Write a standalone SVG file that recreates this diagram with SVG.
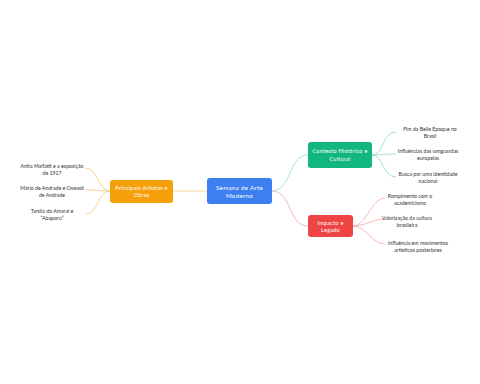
<svg xmlns="http://www.w3.org/2000/svg" width="480" height="384" viewBox="0 0 480 384">
<style>
.bg{fill:#ffffff}
.node text{fill:#ffffff;font-family:"Lato","Liberation Sans",sans-serif;font-size:6.2px;letter-spacing:0.3px;text-anchor:middle}
.leaf text{fill:#333333;font-family:"Lato","Liberation Sans",sans-serif;font-size:5.2px;text-anchor:middle}
.c{fill:none;stroke-width:0.8}
.o{stroke:#f7c873}
.g{stroke:#8fdcc1}
.r{stroke:#f5a3a8}
</style>
<rect class="bg" width="480" height="384"/>
<g id="connectors">
<path class="c o" d="M207,191 L173,191"/>
<path class="c g" d="M272,191 C292,191 288,155 308,155"/>
<path class="c r" d="M272,191 C292,191 288,226 308,226"/>
<path class="c g" d="M372,155 C384,155 382,132 396,132"/>
<path class="c g" d="M372,155 C384,155 382,154 396,154"/>
<path class="c g" d="M372,155 C384,155 382,177 396,177"/>
<path class="c r" d="M353,226 C366,226 372,198 385,198"/>
<path class="c r" d="M353,226 C366,226 372,219 385,219"/>
<path class="c r" d="M353,226 C366,226 372,244 385,244"/>
<path class="c o" d="M110,191 C98,191 98,168 85,168"/>
<path class="c o" d="M110,191 C98,191 98,190 86,190"/>
<path class="c o" d="M110,191 C98,191 98,214 86,214"/>
</g>
<g id="central" class="node">
<rect x="207" y="178" width="65" height="26" rx="3" fill="#3d7ef0"/>
<text x="239.5" y="189.5">Semana de Arte</text>
<text x="239.5" y="198">Moderno</text>
</g>
<g id="artistas" class="node">
<rect x="110" y="180" width="63" height="23" rx="3" fill="#f59f0b"/>
<text x="141.5" y="189.5" style="font-size:5.4px">Principais Artistas e</text>
<text x="141.5" y="197" style="font-size:5.4px">Obras</text>
</g>
<g id="contexto" class="node">
<rect x="308" y="142" width="64" height="26" rx="3" fill="#12b77f"/>
<text x="340" y="153" style="font-size:5.4px">Contexto Histórico e</text>
<text x="340" y="160.5" style="font-size:5.4px">Cultural</text>
</g>
<g id="impacto" class="node">
<rect x="308" y="215" width="45" height="22" rx="3" fill="#ef4444"/>
<text x="330.5" y="224.5" style="font-size:5.4px">Impacto e</text>
<text x="330.5" y="232" style="font-size:5.4px">Legado</text>
</g>
<g id="leaf-fim" class="leaf">
<text x="430" y="131">Fim da Belle Époque no</text>
<text x="430" y="138">Brasil</text>
</g>
<g id="leaf-influencias" class="leaf">
<text x="428" y="153">Influências das vanguardas</text>
<text x="428" y="160">europeias</text>
</g>
<g id="leaf-busca" class="leaf">
<text x="428" y="175.5">Busca por uma identidade</text>
<text x="428" y="182.5">nacional</text>
</g>
<g id="leaf-rompimento" class="leaf">
<text x="410" y="197.5">Rompimento com o</text>
<text x="410" y="204.5">academicismo</text>
</g>
<g id="leaf-valorizacao" class="leaf">
<text x="407" y="219.5">Valorização da cultura</text>
<text x="407" y="226.5">brasileira</text>
</g>
<g id="leaf-influencia" class="leaf">
<text x="418" y="244.5">Influência em movimentos</text>
<text x="418" y="251.5">artísticos posteriores</text>
</g>
<g id="leaf-anita" class="leaf">
<text x="52" y="167.5">Anita Malfatti e a exposição</text>
<text x="52" y="174.5">de 1917</text>
</g>
<g id="leaf-mario" class="leaf">
<text x="52" y="189.5">Mário de Andrade e Oswald</text>
<text x="52" y="196.5">de Andrade</text>
</g>
<g id="leaf-tarsila" class="leaf">
<text x="52" y="212.5">Tarsila do Amaral e</text>
<text x="52" y="219.5">“Abaporu”</text>
</g>
</svg>
